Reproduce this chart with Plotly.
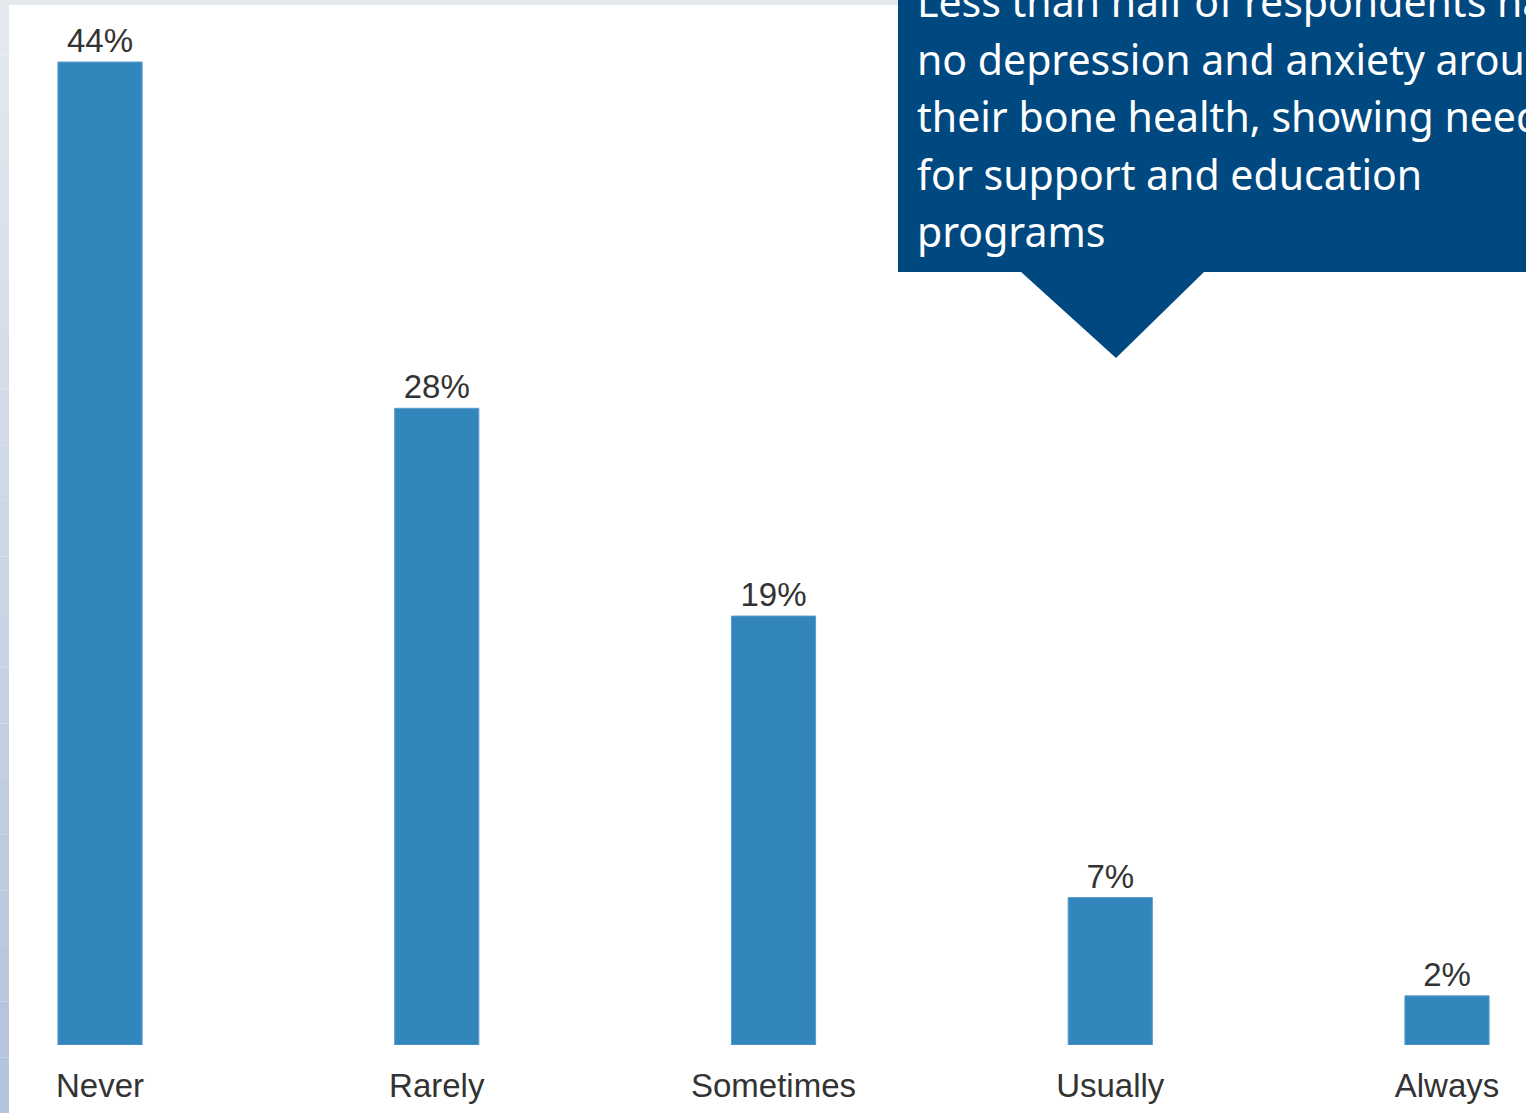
import plotly.graph_objects as go

categories = ["Never", "Rarely", "Sometimes", "Usually", "Always"]
values = [44.0, 28.5, 19.2, 6.6, 2.2]
value_labels = ["44%", "28%", "19%", "7%", "2%"]
callout_lines = [
    "Less than half of respondents have",
    "no depression and anxiety around",
    "their bone health, showing need",
    "for support and education",
    "programs",
]

W, H = 1526, 1113
BASE = 1045  # pixel row of the plot bottom


def px(x):
    return x / W


def py(y):
    return (BASE - y) / BASE


fig = go.Figure(
    go.Bar(
        x=list(range(len(categories))),
        y=values,
        text=value_labels,
        textposition="outside",
        cliponaxis=False,
        width=0.25,
        marker=dict(color="#3286bc", line=dict(color="#5a9dcb", width=1)),
        textfont=dict(family="Liberation Sans, Arial", size=33, color="#333333"),
        hoverinfo="skip",
    )
)

shapes = []
# left decorative gradient band
n = 20
for i in range(n):
    t = i / (n - 1)
    r = int(228 - 48 * t)
    g = int(232 - 36 * t)
    b = int(238 - 18 * t)
    shapes.append(dict(type="rect", xref="paper", yref="paper",
                       x0=px(0), x1=px(9), y0=py(H * i / n), y1=py(H * (i + 1) / n),
                       fillcolor=f"rgb({r},{g},{b})", line=dict(width=0), layer="above"))
# top band
shapes.append(dict(type="rect", xref="paper", yref="paper", x0=px(0), x1=px(898),
                   y0=py(0), y1=py(5), fillcolor="#e6e9ec", line=dict(width=0), layer="above"))
# callout box
shapes.append(dict(type="rect", xref="paper", yref="paper", x0=px(898), x1=px(W + 2),
                   y0=py(-2), y1=py(272), fillcolor="#004880", line=dict(width=0), layer="above"))
shapes.append(dict(type="path", xref="paper", yref="paper",
                   path=f"M {px(1020)},{py(271)} L {px(1205)},{py(271)} L {px(1116)},{py(358)} Z",
                   fillcolor="#004880", line=dict(width=0), layer="above"))

annotations = []
for i, line in enumerate(callout_lines):
    base_y = 21 + 57.5 * i
    annotations.append(dict(xref="paper", yref="paper", x=px(915), y=py(base_y + 10),
                            xanchor="left", yanchor="bottom", showarrow=False, text=line,
                            font=dict(family="Noto Sans", size=41, color="white"), align="left"))

fig.update_layout(
    width=W, height=H,
    margin=dict(l=0, r=0, t=0, b=H - BASE, pad=0),
    paper_bgcolor="white", plot_bgcolor="white",
    showlegend=False,
    bargap=0.75,
    xaxis=dict(range=[-0.297, 4.2346], tickmode="array", tickvals=list(range(len(categories))),
               ticktext=categories, showgrid=False, zeroline=False, showline=False,
               ticks="", ticklabelstandoff=18,
               tickfont=dict(family="Liberation Sans, Arial", size=33, color="#333333"),
               fixedrange=True),
    yaxis=dict(range=[0, BASE / 22.34], visible=False, fixedrange=True),
    shapes=shapes,
    annotations=annotations,
)

fig.write_html("out.html", config={"displayModeBar": False},
               post_script="document.body.style.margin='0';document.body.style.overflow='hidden';")
